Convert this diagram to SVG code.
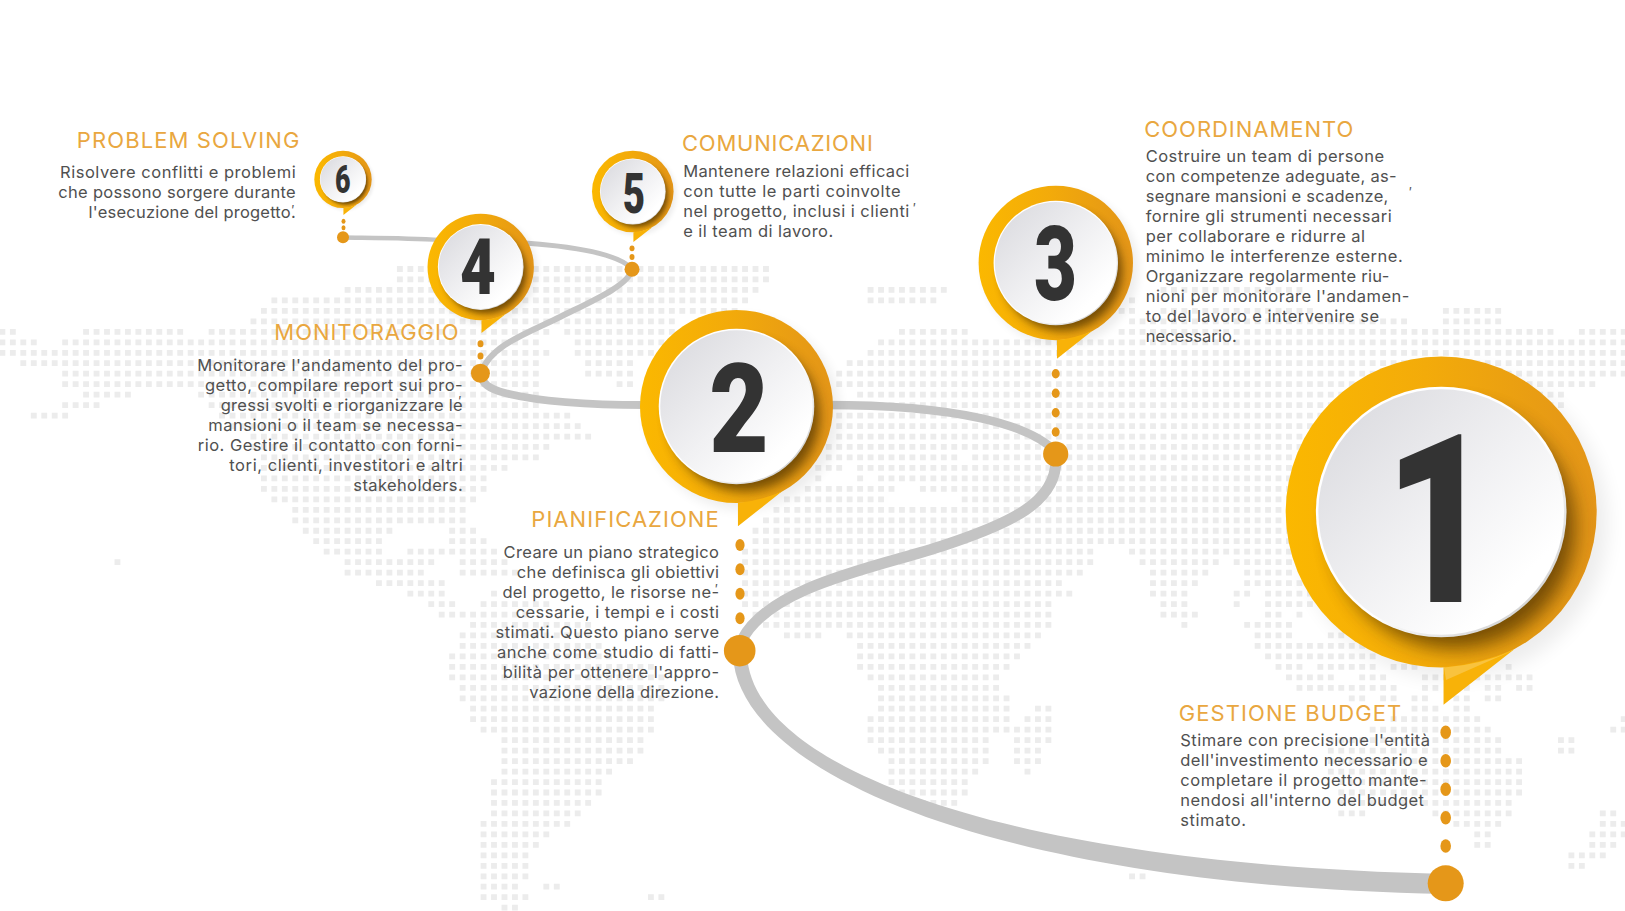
<svg xmlns="http://www.w3.org/2000/svg" xmlns:xlink="http://www.w3.org/1999/xlink" width="1625" height="911" viewBox="0 0 1625 911">
<style>
text{font-family:"Inter","Liberation Sans",sans-serif}
.h{font-size:22px;fill:#e9a740;font-weight:400}
.b{font-size:16.5px;fill:#505050}
.t{font-size:13px;fill:#555}
.d{font-family:"Roboto","Liberation Sans",sans-serif;font-weight:900;fill:#333;text-anchor:middle}
.o{fill:#e59719}
.c{fill:none;stroke:#c4c4c4;stroke-linecap:butt}
</style>
<defs>
<linearGradient id="ring" x1="0" x2="1" y1="0" y2="0"><stop offset="0" stop-color="#fbb800"/><stop offset=".45" stop-color="#f3ab0a"/><stop offset="1" stop-color="#e39518"/></linearGradient>
<linearGradient id="rim" x1=".15" y1=".15" x2=".85" y2=".85"><stop offset="0" stop-color="#fff"/><stop offset=".6" stop-color="#fff"/><stop offset="1" stop-color="#d6d6d6"/></linearGradient>
<linearGradient id="disc" x1=".15" y1=".15" x2=".8" y2=".8"><stop offset="0" stop-color="#dfdfe3"/><stop offset=".55" stop-color="#f1f1f3"/><stop offset="1" stop-color="#fff"/></linearGradient>
<filter id="blur" x="-40%" y="-40%" width="180%" height="180%"><feGaussianBlur stdDeviation="6"/></filter>
<filter id="soft" x="-40%" y="-40%" width="180%" height="180%"><feGaussianBlur stdDeviation="6"/></filter>
<clipPath id="inpin"><circle r="100"/></clipPath>
<g id="pin">
<circle cx="7" cy="7" r="100" fill="#000" opacity=".07" filter="url(#soft)"/>
<circle r="100" fill="url(#ring)"/>
<g clip-path="url(#inpin)"><circle cx="8" cy="10" r="78" fill="#4a2e00" opacity=".72" filter="url(#blur)"/></g>
<path d="M1.5 99.9V124L47 88.2Q24 98 1.5 99.9Z" fill="#f8b208"/>
<circle r="80.6" fill="url(#rim)"/>
<circle r="79" fill="url(#disc)"/>
</g>
</defs>
<g id="map" transform="translate(-.53 269) scale(10.46 10.47)" fill="none" stroke="#ececec" stroke-width=".55" stroke-dasharray=".56 .44">
<path d="M38 0h36M38 1h36M33 2h40M83 2h8M111 2h14M26 3h46M83 3h7M108 3h1M25 4h46M107 4h2M111 4h15M138 4h6M24 5h41M108 5h27M138 5h6M0 6h2M8 6h10M20 6h33M54 6h11M86 6h7M107 6h42M151 6h5M0 7h4M6 7h46M55 7h9M84 7h72M0 8h53M55 8h9M83 8h73M2 9h50M56 9h5M81 9h75M6 10h46M56 10h5M80 10h76M6 11h46M59 11h2M80 11h73M8 12h5M19 12h33M82 12h68M6 13h4M20 13h32M80 13h70M3 14h4M21 14h34M80 14h61M22 15h34M80 15h61M24 16h33M80 16h61M24 17h29M79 17h62M25 18h27M79 18h13M93 18h48M25 19h24M78 19h3M82 19h59M25 20h22M78 20h1M82 20h1M84 20h57M25 21h22M77 21h9M88 21h53M26 22h20M75 22h10M92 22h49M28 23h17M74 23h67M28 24h17M73 24h68M29 25h9M43 25h3M72 25h69M30 26h7M43 26h4M72 26h69M31 27h6M39 27h9M71 27h34M108 27h18M11 28h1M33 28h9M44 28h5M71 28h34M109 28h8M118 28h8M33 29h8M44 29h6M71 29h33M110 29h6M119 29h5M36 30h7M71 30h31M110 30h5M119 30h8M39 31h4M47 31h1M71 31h32M110 31h4M118 31h2M121 31h6M41 32h3M46 32h7M71 32h30M111 32h3M118 32h1M121 32h5M42 33h9M72 33h29M111 33h4M121 33h2M124 33h1M45 34h12M73 34h28M113 34h1M119 34h5M44 35h13M75 35h4M81 35h19M120 35h4M127 35h2M44 36h14M82 36h17M120 36h12M43 37h16M82 37h16M121 37h11M43 38h20M82 38h15M122 38h3M126 38h6M133 38h3M144 38h1M43 39h21M83 39h13M123 39h5M130 39h3M136 39h11M44 40h20M84 40h12M124 40h10M136 40h2M139 40h2M142 40h2M145 40h2M44 41h20M84 41h13M129 41h2M132 41h2M135 41h2M139 41h2M142 41h2M45 42h18M84 42h13M99 42h2M135 42h3M139 42h2M45 43h18M83 43h14M98 43h3M133 43h9M155 43h1M46 44h17M83 44h18M131 44h12M154 44h2M48 45h14M83 45h12M97 45h4M127 45h17M149 45h2M48 46h14M84 46h11M97 46h3M127 46h17M149 46h2M48 47h13M85 47h10M97 47h3M127 47h19M48 48h11M85 48h9M98 48h1M127 48h19M47 49h11M85 49h8M128 49h18M47 50h11M86 50h7M128 50h18M47 51h10M87 51h5M128 51h17M47 52h9M128 52h3M137 52h8M153 52h2M46 53h9M139 53h5M153 53h3M46 54h7M141 54h2M152 54h4M46 55h6M141 55h2M152 55h3M46 56h5M150 56h4M46 57h5M150 57h2M46 58h5M108 58h2M46 59h4M52 59h2M46 60h5M62 60h2M48 61h2"/>
</g>
<g id="connectors">
<path fill="#c4c4c4" d="M747 655C752.5 767 1002.5 864 1446 874V894C997.5 886 737.5 773 733 655Z"/>
<path class="c" stroke-width="11" d="M1056 460C1056 502 1012 523 942 546C882 566 770 585 742 640"/>
<path class="c" stroke-width="8.5" d="M1056 452C1030 425 960 405 825 405"/>
<path class="c" stroke-width="8" d="M645 405C590 405 540 402 505 393C490 389 481 384 481 373"/>
<path class="c" stroke-width="6" d="M481 373C490 345 530 332 560 317C590 302 630 285 632 269"/>
<path class="c" stroke-width="5" d="M632 269C620 255 580 247 525 243"/>
<path class="c" stroke-width="4.5" d="M343 237.5C380 238 410 238 440 240"/>
</g>
<g id="node6">
<circle class="o" cx="343" cy="237.3" r="6"/><ellipse class="o" cx="343.5" cy="221.3" rx="2" ry="2.5"/><ellipse class="o" cx="343.5" cy="227.7" rx="2" ry="2.5"/>
<use href="#pin" transform="translate(343 179.4) scale(.287)"/>
<text class="d" transform="translate(342.7 193) scale(.68 1)" font-size="39.4">6</text>
<text class="h" x="76.8" y="148.3" textLength="222.5">PROBLEM SOLVING</text>
<text class="b" x="60" y="178.3" textLength="235.7">Risolvere conflitti e problemi</text>
<text class="b" x="58.2" y="198.3" textLength="237.5">che possono sorgere durante</text>
<text class="b" x="88.6" y="218.3" textLength="207.1">l'esecuzione del progetto.</text>
<text class="t" x="291.5" y="215">′</text>
</g>
<g id="node5">
<circle class="o" cx="632" cy="269.3" r="7.5"/><ellipse class="o" cx="632" cy="248.3" rx="2.5" ry="2.9"/><ellipse class="o" cx="632" cy="257" rx="2.5" ry="2.9"/>
<use href="#pin" transform="translate(632.8 191.5) scale(.408)"/>
<text class="d" transform="translate(634 213) scale(.7 1)" font-size="55">5</text>
<text class="h" x="682" y="150.7" textLength="190.9">COMUNICAZIONI</text>
<text class="b" x="683.2" y="176.7" textLength="226.1">Mantenere relazioni efficaci</text>
<text class="b" x="683.2" y="196.7" textLength="217.5">con tutte le parti coinvolte</text>
<text class="b" x="683.2" y="216.7" textLength="226.1">nel progetto, inclusi i clienti</text>
<text class="b" x="683.2" y="236.7" textLength="150">e il team di lavoro.</text>
<text class="t" x="913" y="213">′</text>
</g>
<g id="node4">
<circle class="o" cx="480.4" cy="373.3" r="9.5"/><ellipse class="o" cx="480.5" cy="343.7" rx="3" ry="3.5"/><ellipse class="o" cx="480.5" cy="356" rx="3" ry="3.5"/>
<use href="#pin" transform="translate(480.7 267) scale(.532)"/>
<text class="d" transform="translate(478 294) scale(.8 1)" font-size="77.4">4</text>
<text class="h" x="274.3" y="340" textLength="184.4">MONITORAGGIO</text>
<text class="b" x="197.3" y="371" textLength="265.4">Monitorare l'andamento del pro-</text>
<text class="b" x="205" y="391" textLength="257.7">getto, compilare report sui pro-</text>
<text class="b" x="220.7" y="411" textLength="242">gressi svolti e riorganizzare le</text>
<text class="b" x="208.3" y="431" textLength="254.4">mansioni o il team se necessa-</text>
<text class="b" x="197.7" y="451" textLength="265">rio. Gestire il contatto con forni-</text>
<text class="b" x="229.3" y="471" textLength="233.4">tori, clienti, investitori e altri</text>
<text class="b" x="353.3" y="491" textLength="109.4">stakeholders.</text>
<text class="t" x="458.5" y="406">′</text>
</g>
<g id="node3">
<circle class="o" cx="1055.7" cy="454" r="12.6"/><ellipse class="o" cx="1055.7" cy="373.7" rx="4" ry="4.7"/><ellipse class="o" cx="1055.7" cy="393.3" rx="4" ry="4.7"/><ellipse class="o" cx="1055.7" cy="412.7" rx="4" ry="4.7"/><ellipse class="o" cx="1055.7" cy="432" rx="4" ry="4.7"/>
<use href="#pin" transform="translate(1055.8 263) scale(.772)"/>
<text class="d" transform="translate(1055.5 300) scale(.72 1)" font-size="103">3</text>
<text class="h" x="1144.3" y="136.7" textLength="209">COORDINAMENTO</text>
<text class="b" x="1145.7" y="161.7" textLength="238.3">Costruire un team di persone</text>
<text class="b" x="1145.7" y="181.7" textLength="251">con competenze adeguate, as-</text>
<text class="b" x="1145.7" y="201.7" textLength="242.6">segnare mansioni e scadenze,</text>
<text class="b" x="1145.7" y="221.7" textLength="246">fornire gli strumenti necessari</text>
<text class="b" x="1145.7" y="241.7" textLength="219.3">per collaborare e ridurre al</text>
<text class="b" x="1145.7" y="261.7" textLength="257">minimo le interferenze esterne.</text>
<text class="b" x="1145.7" y="281.7" textLength="243.6">Organizzare regolarmente riu-</text>
<text class="b" x="1145.7" y="301.7" textLength="263.6">nioni per monitorare l'andamen-</text>
<text class="b" x="1145.7" y="321.7" textLength="233.3">to del lavoro e intervenire se</text>
<text class="b" x="1145.7" y="341.7" textLength="91">necessario.</text>
<text class="t" x="1409" y="197">′</text>
</g>
<g id="node2">
<circle class="o" cx="739.7" cy="650.7" r="15.8"/><ellipse class="o" cx="740" cy="545" rx="4.6" ry="6"/><ellipse class="o" cx="740" cy="569.3" rx="4.6" ry="6"/><ellipse class="o" cx="740" cy="593.7" rx="4.6" ry="6"/><ellipse class="o" cx="740" cy="618.3" rx="4.6" ry="6"/>
<use href="#pin" transform="translate(736.5 406.5) scale(.965)"/>
<text class="d" transform="translate(739 452) scale(.82 1)" font-size="125">2</text>
<text class="h" x="531.3" y="526.7" textLength="187.4">PIANIFICAZIONE</text>
<text class="b" x="503.6" y="557.8" textLength="215.4">Creare un piano strategico</text>
<text class="b" x="516.8" y="577.8" textLength="202.2">che definisca gli obiettivi</text>
<text class="b" x="502.4" y="597.8" textLength="216.6">del progetto, le risorse ne-</text>
<text class="b" x="515.7" y="617.8" textLength="203.3">cessarie, i tempi e i costi</text>
<text class="b" x="495.6" y="637.8" textLength="223.4">stimati. Questo piano serve</text>
<text class="b" x="497" y="657.8" textLength="222">anche come studio di fatti-</text>
<text class="b" x="502.8" y="677.8" textLength="216.2">bilità per ottenere l'appro-</text>
<text class="b" x="529.2" y="697.8" textLength="189.8">vazione della direzione.</text>
<text class="t" x="715" y="594">′</text>
</g>
<g id="node1">
<circle class="o" cx="1445.7" cy="883.3" r="18"/><ellipse class="o" cx="1445.7" cy="732.3" rx="5.3" ry="6.7"/><ellipse class="o" cx="1445.7" cy="760.7" rx="5.3" ry="6.7"/><ellipse class="o" cx="1445.7" cy="789.3" rx="5.3" ry="6.7"/><ellipse class="o" cx="1445.7" cy="817.7" rx="5.3" ry="6.7"/><ellipse class="o" cx="1445.7" cy="846" rx="5.3" ry="6.7"/>
<use href="#pin" transform="translate(1441.2 512) scale(1.555)"/>
<path d="M1444 667.5L1446 680 1514 650Q1480 665 1444 667.5Z" fill="#fff" opacity=".22"/>
<text class="d" transform="translate(1439 602) scale(.8 1)" font-size="235">1</text>
<text class="h" x="1178.7" y="720.7" textLength="222.6">GESTIONE BUDGET</text>
<text class="b" x="1180.3" y="745.7" textLength="249.7">Stimare con precisione l'entità</text>
<text class="b" x="1180.3" y="765.7" textLength="247.4">dell'investimento necessario e</text>
<text class="b" x="1180.3" y="785.7" textLength="246.4">completare il progetto mante-</text>
<text class="b" x="1180.3" y="805.7" textLength="243.7">nendosi all'interno del budget</text>
<text class="b" x="1180.3" y="825.7" textLength="65.7">stimato.</text>
<text class="t" x="1407.5" y="786">′</text>
</g>
</svg>
